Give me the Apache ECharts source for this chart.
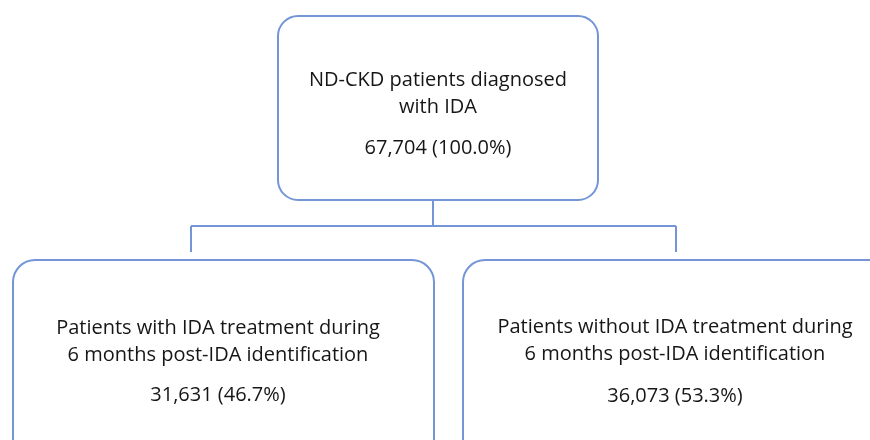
<!DOCTYPE html>
<html>
<head>
<meta charset="utf-8">
<script src="https://cdn.jsdelivr.net/npm/echarts@6/dist/echarts.min.js"></script>
<style>html,body{margin:0;padding:0;background:#fff;}#c{width:870px;height:440px;}</style>
</head>
<body>
<div id="c"></div>
<script>
// Data
const nodeTitles = [
  ['ND-CKD patients diagnosed', 'with IDA'],
  ['Patients with IDA treatment during', '6 months post-IDA identification'],
  ['Patients without IDA treatment during', '6 months post-IDA identification']
];
const nodeCounts = [67704, 31631, 36073];
const nodePercents = [100.0, 46.7, 53.3];

// Layout (styling only)
const LINE = '#7496D6';
const FONT = '20px "Open Sans"';
const boxes = [
  {x: 278, y: 16, w: 320, h: 184, r: 20, cx: 438, t1: 80, t2: 107, t3: 148},
  {x: 13, y: 260, w: 421, h: 210, r: 22, cx: 218, t1: 328, t2: 355, t3: 395},
  {x: 463, y: 260, w: 440, h: 210, r: 22, cx: 675, t1: 327, t2: 354, t3: 396}
];

function fmt(i) {
  return nodeCounts[i].toLocaleString('en-US') + ' (' + nodePercents[i].toFixed(1) + '%)';
}

const elements = [];
boxes.forEach((b, i) => {
  elements.push({
    type: 'rect',
    shape: {x: b.x, y: b.y, width: b.w, height: b.h, r: b.r},
    style: {fill: '#fff', stroke: LINE, lineWidth: 2}
  });
  [nodeTitles[i][0], nodeTitles[i][1], fmt(i)].forEach((t, k) => {
    elements.push({
      type: 'text',
      x: b.cx, y: [b.t1, b.t2, b.t3][k],
      style: {text: t, font: FONT, fill: '#161616', align: 'center', verticalAlign: 'middle'}
    });
  });
});
const conn = [
  [[433, 201], [433, 226]],
  [[191, 226], [676, 226]],
  [[191, 226], [191, 252]],
  [[676, 226], [676, 252]]
];
conn.forEach(p => elements.push({
  type: 'polyline', shape: {points: p}, style: {stroke: LINE, lineWidth: 2, fill: null}
}));

const chart = echarts.init(document.getElementById('c'));
chart.setOption({backgroundColor: '#fff', graphic: {elements: elements}});
</script>
</body>
</html>
